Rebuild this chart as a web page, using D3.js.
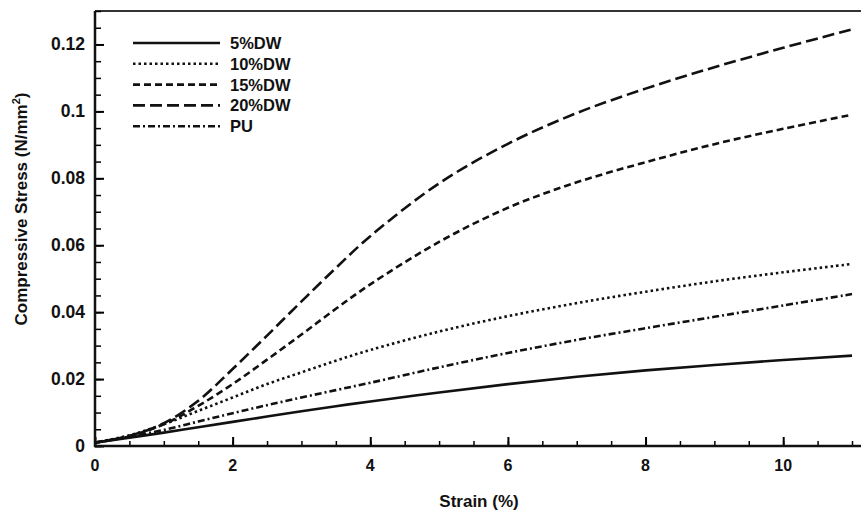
<!DOCTYPE html>
<html>
<head>
<meta charset="utf-8">
<script src="https://cdn.jsdelivr.net/npm/d3@7"></script>
<style>
  body { margin: 0; background: #fff; }
  text { font-family: "Liberation Sans", Arial, sans-serif; font-weight: bold; fill: #111; }
</style>
</head>
<body>
<svg id="chart" width="861" height="516"></svg>
<script>
// strain (%) sample points
var strain = [0, 0.5, 1, 1.5, 2, 2.5, 3, 3.5, 4, 5, 6, 7, 8, 9, 10, 11];

// compressive stress (N/mm2)
var dw5  = [0.001, 0.0025, 0.004, 0.0056, 0.0072, 0.0088, 0.0104, 0.0119, 0.0133, 0.016, 0.0185, 0.0207, 0.0226, 0.0242, 0.0257, 0.027];
var dw10 = [0.001, 0.0032, 0.0065, 0.0105, 0.0145, 0.0185, 0.022, 0.0255, 0.0287, 0.0342, 0.0388, 0.0427, 0.0461, 0.0492, 0.0519, 0.0544];
var dw15 = [0.001, 0.003, 0.0065, 0.012, 0.0185, 0.0258, 0.0333, 0.041, 0.0483, 0.061, 0.0712, 0.0788, 0.0848, 0.0902, 0.0948, 0.099];
var dw20 = [0.001, 0.003, 0.0068, 0.0135, 0.023, 0.033, 0.0432, 0.0532, 0.0627, 0.0785, 0.0903, 0.0995, 0.1068, 0.1132, 0.119, 0.1245];
var pu   = [0.001, 0.0028, 0.0048, 0.0073, 0.0098, 0.0122, 0.0145, 0.0167, 0.0189, 0.0235, 0.0278, 0.0317, 0.0352, 0.0386, 0.042, 0.0454];

var seriesNames = ["5%DW", "10%DW", "15%DW", "20%DW", "PU"];
var seriesVals = [dw5, dw10, dw15, dw20, pu];
var dashes = [null, "2.5,3", "7,4", "12,5", "7,3,2,3"];

var xTicks = [0, 2, 4, 6, 8, 10];
var yTicks = [0, 0.02, 0.04, 0.06, 0.08, 0.1, 0.12];

var svg = d3.select("#chart");
var padL = 95, padR = 852, padT = 11, padB = 446;

var x = d3.scaleLinear().domain([0, 11]).range([padL, padR]);
var y = d3.scaleLinear().domain([0, 0.13]).range([padB, padT]);

// frame: top border runs to the picture edge
svg.append("line").attr("x1", padL).attr("x2", 861).attr("y1", padT).attr("y2", padT)
  .attr("stroke", "#333").attr("stroke-width", 2);

// x axis, ticks pointing inward
var xMinor = d3.range(0, 11.01, 0.5);
svg.append("g").attr("transform", "translate(0," + padB + ")")
  .call(d3.axisTop(x).tickValues(xMinor).tickSize(5).tickFormat(""))
  .call(function(g) { g.select(".domain").remove(); })
  .selectAll("line").attr("stroke-width", 1.5);
svg.append("g").attr("transform", "translate(0," + padB + ")")
  .call(d3.axisTop(x).tickValues(xTicks).tickSize(9).tickFormat(""))
  .call(function(g) { g.select(".domain").remove(); })
  .selectAll("line").attr("stroke-width", 2);
svg.append("g").selectAll("text").data(xTicks).enter().append("text")
  .attr("x", function(d) { return x(d); }).attr("y", padB + 25)
  .attr("text-anchor", "middle").attr("font-size", 16)
  .text(function(d) { return d; });

// y axis
var yMinor = d3.range(0, 0.1301, 0.005);
svg.append("g").attr("transform", "translate(" + padL + ",0)")
  .call(d3.axisRight(y).tickValues(yMinor).tickSize(6).tickFormat(""))
  .call(function(g) { g.select(".domain").remove(); })
  .selectAll("line").attr("stroke-width", 1.5);
svg.append("g").attr("transform", "translate(" + padL + ",0)")
  .call(d3.axisRight(y).tickValues(yTicks).tickSize(9).tickFormat(""))
  .call(function(g) { g.select(".domain").remove(); })
  .selectAll("line").attr("stroke-width", 2);
svg.append("g").selectAll("text").data(yTicks).enter().append("text")
  .attr("x", padL - 10).attr("y", function(d) { return y(d) + 6; })
  .attr("text-anchor", "end").attr("font-size", 17.5)
  .text(function(d) { return d; });

svg.append("line").attr("x1", padL).attr("x2", padL).attr("y1", padT).attr("y2", padB + 1)
  .attr("stroke", "#111").attr("stroke-width", 2.5);
svg.append("line").attr("x1", padL - 1).attr("x2", 861).attr("y1", padB).attr("y2", padB)
  .attr("stroke", "#111").attr("stroke-width", 2.5);

// axis titles
svg.append("text").attr("x", 479).attr("y", 507)
  .attr("text-anchor", "middle").attr("font-size", 17).text("Strain (%)");
var yt = svg.append("text").attr("transform", "translate(27,209) rotate(-90)")
  .attr("text-anchor", "middle").attr("font-size", 17);
yt.append("tspan").text("Compressive Stress (N/mm");
yt.append("tspan").attr("dy", -7).attr("font-size", 11).text("2");
yt.append("tspan").attr("dy", 7).text(")");

// curves
var line = d3.line()
  .x(function(d, i) { return x(strain[i]); })
  .y(function(d) { return y(d); })
  .curve(d3.curveCatmullRom.alpha(0.5));

svg.append("g").selectAll("path").data(seriesVals).enter().append("path")
  .attr("d", line)
  .attr("fill", "none").attr("stroke", "#111").attr("stroke-width", 2.6)
  .attr("stroke-dasharray", function(d, i) { return dashes[i]; });

// legend
var leg = svg.append("g").selectAll("g").data(seriesNames).enter().append("g")
  .attr("transform", function(d, i) { return "translate(133," + (43 + i * 20.8) + ")"; });
leg.append("line").attr("x1", 0).attr("x2", 87)
  .attr("stroke", "#111").attr("stroke-width", 2.6)
  .attr("stroke-dasharray", function(d, i) { return dashes[i]; });
leg.append("text").attr("x", 97).attr("y", 6).attr("font-size", 16.5)
  .text(function(d) { return d; });
</script>
</body>
</html>
